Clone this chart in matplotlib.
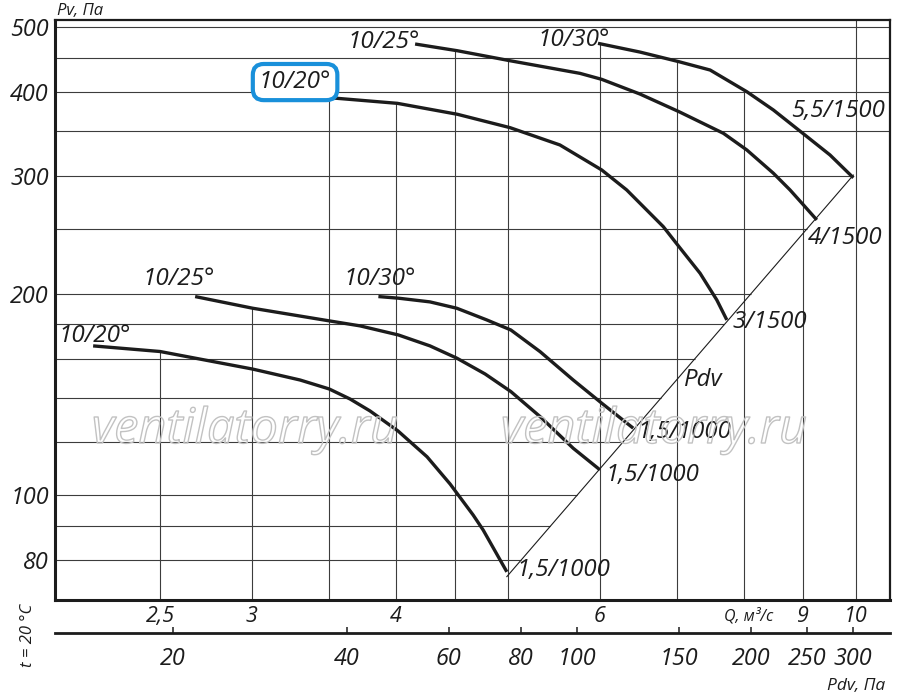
import numpy as np
import matplotlib
matplotlib.use('Agg')
import matplotlib.pyplot as plt
import matplotlib.patheffects as pe
from matplotlib import font_manager as fm
from matplotlib.ticker import NullLocator, FixedLocator, FixedFormatter

# ---------------- data ----------------
q_ticks = [2.5, 3, 4, 6, 9, 10]
q_tick_labels = ['2,5', '3', '4', '6', '9', '10']
pv_ticks = [80, 100, 200, 300, 400, 500]
pv_tick_labels = ['80', '100', '200', '300', '400', '500']
pdv_ticks = [20, 40, 60, 80, 100, 150, 200, 250, 300]
pdv_tick_labels = ['20', '40', '60', '80', '100', '150', '200', '250', '300']
q_grid = [2.5, 3, 3.5, 4, 4.5, 5, 6, 7, 8, 9, 10]
pv_grid = [80, 90, 100, 120, 140, 160, 180, 200, 250, 300, 350, 400, 450, 500]
pdv_coef = 3.04  # Pdv = coef * Q^2

# 1000 rpm curves (Q m3/s, Pv Pa)
q_1000_20 = [2.188, 2.500, 3.006, 3.304, 3.501, 3.650, 3.798, 4.016, 4.255, 4.455, 4.664, 4.758, 4.988]
pv_1000_20 = [167.2, 164.0, 154.4, 148.7, 144.2, 139.3, 133.7, 124.8, 114.2, 104.0, 93.5, 88.8, 76.9]
q_1000_25 = [2.681, 3.007, 3.503, 3.724, 4.019, 4.280, 4.515, 4.777, 5.028, 5.330, 5.693, 6.004]
pv_1000_25 = [198.1, 190.3, 182.2, 179.1, 173.6, 167.2, 160.3, 151.8, 142.9, 131.1, 117.6, 109.2]
q_1000_30 = [3.862, 4.019, 4.280, 4.515, 4.793, 5.028, 5.330, 5.693, 6.026, 6.416]
pv_1000_30 = [198.1, 197.0, 194.5, 190.3, 182.8, 176.6, 163.9, 148.7, 137.3, 126.0]

# 1500 rpm curves
q_1500_20 = [3.393, 3.508, 4.011, 4.520, 5.021, 5.544, 6.026, 6.333, 6.812, 7.029, 7.330, 7.578, 7.731]
pv_1500_20 = [392.9, 392.4, 384.9, 370.7, 354.0, 333.6, 306.1, 285.8, 251.9, 235.1, 214.6, 195.8, 182.8]
q_1500_25 = [4.155, 4.520, 5.021, 5.770, 6.026, 6.503, 7.029, 7.679, 8.045, 8.482, 8.768, 9.034, 9.248]
pv_1500_25 = [472.0, 461.2, 445.6, 426.7, 418.0, 397.4, 374.0, 347.2, 327.9, 302.7, 285.8, 269.8, 257.8]
q_1500_30 = [5.981, 6.503, 7.029, 7.478, 8.045, 8.482, 9.034, 9.495, 9.947]
pv_1500_30 = [473.1, 459.1, 444.1, 431.6, 400.6, 376.2, 345.1, 322.3, 298.0]

start_labels = ['10/20°', '10/25°', '10/30°', '10/20°', '10/25°', '10/30°']
end_labels = ['1,5/1000', '1,5/1000', '1,5/1000', '3/1500', '4/1500', '5,5/1500']

# ---------------- fonts ----------------
def has_italic(name):
    return any(f.name == name and f.style in ('italic', 'oblique') for f in fm.fontManager.ttflist)

main_font = 'DejaVu Sans'
for cand in ['Open Sans', 'Noto Sans', 'Lato', 'Roboto', 'DejaVu Sans']:
    if has_italic(cand):
        main_font = cand
        break
plt.rcParams['font.family'] = [main_font, 'DejaVu Sans']
plt.rcParams['font.style'] = 'italic'

def pt(v):  # pixels -> points at 100 dpi
    return v * 72.0 / 100.0

INK = '#1c1c1c'
GRID = '#3c3c3c'

fig = plt.figure(figsize=(9.0, 6.94), dpi=100)
ax = fig.add_axes([55 / 900, 94 / 694, 835 / 900, 580 / 694])
ax.set_xscale('log')
ax.set_yscale('log')
ax.set_xlim(2.028, 10.70)
ax.set_ylim(69.8, 512.6)

for s in ['left', 'bottom']:
    ax.spines[s].set_linewidth(2.2)
    ax.spines[s].set_color(INK)
for s in ['top', 'right']:
    ax.spines[s].set_linewidth(1.6)
    ax.spines[s].set_color(INK)

ax.xaxis.set_major_locator(FixedLocator(q_ticks))
ax.xaxis.set_major_formatter(FixedFormatter(q_tick_labels))
ax.xaxis.set_minor_locator(NullLocator())
ax.yaxis.set_major_locator(FixedLocator(pv_ticks))
ax.yaxis.set_major_formatter(FixedFormatter(pv_tick_labels))
ax.yaxis.set_minor_locator(NullLocator())
ax.tick_params(axis='x', length=0, pad=4, labelsize=15.5, labelcolor=INK)
ax.tick_params(axis='y', length=0, pad=4.5, labelsize=16.8, labelcolor=INK)

curves = [(q_1000_20, pv_1000_20), (q_1000_25, pv_1000_25), (q_1000_30, pv_1000_30),
          (q_1500_20, pv_1500_20), (q_1500_25, pv_1500_25), (q_1500_30, pv_1500_30)]

def envelope(q):
    vals = []
    for cq, cp in curves:
        if cq[0] <= q <= cq[-1]:
            vals.append(10 ** np.interp(np.log10(q), np.log10(cq), np.log10(cp)))
    return max(vals) if vals else None

ylo, yhi = ax.get_ylim()
xlo, xhi = ax.get_xlim()
for g in q_grid:
    top = envelope(g)
    ax.vlines(g, ylo, top if top else yhi, color=GRID, lw=0.8, zorder=1)

q_diag = np.array([q_1000_20[-1], q_1500_30[-1]])
q_diag = np.geomspace(q_diag[0], q_diag[1], 50)
pv_diag = pdv_coef * q_diag ** 2
diag_top = pv_diag[-1]
for g in pv_grid:
    xr = np.sqrt(g / pdv_coef) if g <= diag_top else xhi
    ax.hlines(g, xlo, xr, color=GRID, lw=0.8, zorder=1)

ax.plot(q_diag, pv_diag, color=INK, lw=0.8, zorder=2)

for cq, cp in curves:
    ax.plot(cq, cp, color=INK, lw=2.4, solid_capstyle='butt', solid_joinstyle='round', zorder=3)

# labels at curve starts (offsets in px: dx, dy up)
start_offsets = [(2, 10), (-16.5, 17.7), (1.7, 17.7), (-18.3, 15.3), (-31.5, 2), (-24, 3.8)]
end_offsets = [(56.8, 1.7), (52.5, -5), (51.2, -3.7), (43.3, -2), (28.3, -18), (-15.8, 66.7)]
for i, (cq, cp) in enumerate(curves):
    dx, dy = start_offsets[i]
    kw = {}
    if i == 3:
        kw['bbox'] = dict(boxstyle='round,pad=0.25,rounding_size=0.45', fc='white',
                          ec='#1990da', lw=3.0)
    ax.annotate(start_labels[i], xy=(cq[0], cp[0]), xytext=(pt(dx), pt(dy)),
                textcoords='offset points', ha='center', va='center',
                fontsize=17.5, color=INK, annotation_clip=False, zorder=5, **kw)
    dx, dy = end_offsets[i]
    ax.annotate(end_labels[i], xy=(cq[-1], cp[-1]), xytext=(pt(dx), pt(dy)),
                textcoords='offset points', ha='center', va='center',
                fontsize=17.3, color=INK, annotation_clip=False, zorder=5)

# Pdv line label
ax.annotate('Pdv', xy=(7.0, pdv_coef * 7.0 ** 2), xytext=(pt(26), pt(-0.5)),
            textcoords='offset points', ha='center', va='center',
            fontsize=17.3, color=INK, annotation_clip=False, zorder=5)

# secondary Pdv axis
sec = ax.secondary_xaxis(-33 / 580, functions=(lambda q: pdv_coef * np.asarray(q) ** 2,
                                                lambda p: np.sqrt(np.abs(np.asarray(p)) / pdv_coef)))
sec.set_xticks(pdv_ticks)
sec.set_xticklabels(pdv_tick_labels)
sec.xaxis.set_minor_locator(NullLocator())
sec.tick_params(axis='x', direction='in', length=4, width=1.1, pad=10, labelsize=16.8,
                labelcolor=INK, color=INK)
sec.spines['bottom'].set_linewidth(2.0)
sec.spines['bottom'].set_color(INK)

# axis titles
fig.text(57 / 900, 1 - 11 / 694, 'Pv, Па', ha='left', va='center', fontsize=12, color=INK)
fig.text(748.5 / 900, 1 - 616 / 694, 'Q, м³/с', ha='center', va='center', fontsize=11.5, color=INK)
fig.text(856 / 900, 1 - 686 / 694, 'Pdv, Па', ha='center', va='center', fontsize=12.5, color=INK)
fig.text(27.5 / 900, 1 - 635.5 / 694, 't = 20 °C', ha='center', va='center', rotation=90,
         fontsize=12, color=INK)

# watermarks (outline only)
for cx in [245, 654]:
    fig.text(cx / 900, 1 - 443 / 694, 'ventilatorry.ru', ha='center', va='baseline',
             fontsize=35, color=(1, 1, 1, 0), zorder=10,
             path_effects=[pe.Stroke(linewidth=1.0, foreground='#c2c2c2')])

fig.savefig('out.png', dpi=100)
